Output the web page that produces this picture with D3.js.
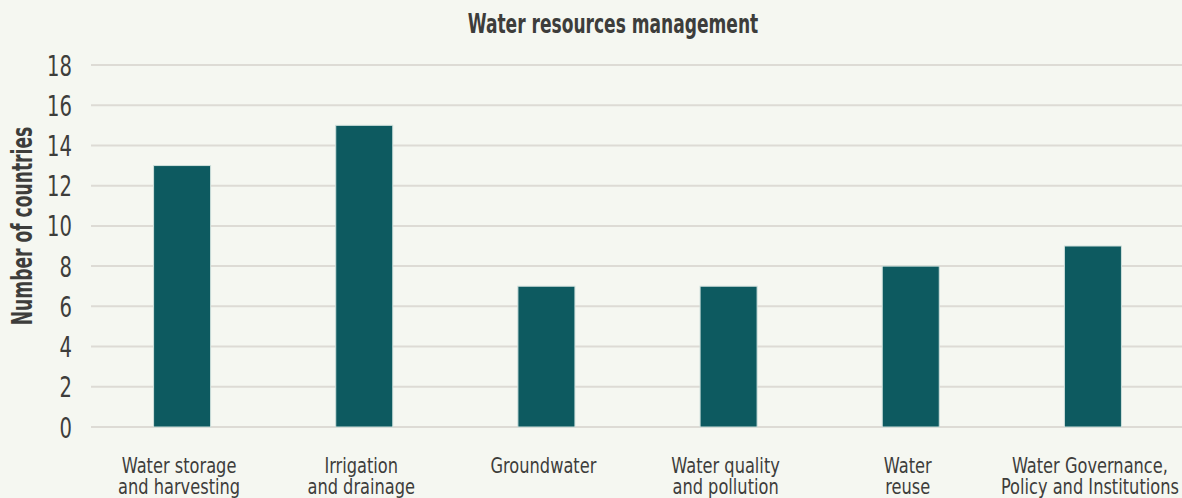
<!DOCTYPE html>
<html><head><meta charset="utf-8">
<script src="https://cdn.jsdelivr.net/npm/d3@7"></script>
<style>
body{margin:0;background:#f5f7f1;}
text{font-family:"DejaVu Sans Condensed","DejaVu Sans","Roboto",sans-serif;fill:#3d3d3b;}
</style></head><body>
<svg id="c" width="1182" height="498"></svg>
<script>
const categories = [["Water storage","and harvesting"],["Irrigation","and drainage"],["Groundwater"],["Water quality","and pollution"],["Water","reuse"],["Water Governance,","Policy and Institutions"]];
const values = [13,15,7,7,8,9];
const yTicks = [0,2,4,6,8,10,12,14,16,18];
const title = "Water resources management";
const yLabel = "Number of countries";

const svg = d3.select("#c");
svg.append("rect").attr("width",1182).attr("height",498).attr("fill","#f5f7f1");
const x = d3.scaleBand().domain(d3.range(categories.length)).range([91,1184]).paddingInner(0.687).paddingOuter(0.3435);
const y = d3.scaleLinear().domain([0,18]).range([427,65]);

svg.append("g").selectAll("line").data(yTicks).join("line")
  .attr("x1",91).attr("x2",1182).attr("y1",d=>y(d)).attr("y2",d=>y(d))
  .attr("stroke","#dddbd5").attr("stroke-width",2);

svg.append("g").selectAll("text").data(yTicks).join("text")
  .attr("transform",d=>`translate(72,${y(d)+10.5}) scale(0.75,1)`).attr("text-anchor","end")
  .attr("font-size",29).text(d=>d);

svg.append("g").selectAll("rect").data(values).join("rect")
  .attr("x",(d,i)=>x(i)).attr("width",x.bandwidth())
  .attr("y",d=>y(d)).attr("height",d=>y(0)-y(d))
  .attr("fill","#0d5a60").attr("stroke","#cfe0dc").attr("stroke-width",1);

const lab = svg.append("g").selectAll("text").data(categories).join("text")
  .attr("text-anchor","middle").attr("font-size",22)
  .attr("transform",(d,i)=>`translate(${x(i)+x.bandwidth()/2-3},473) scale(0.82,1)`);
lab.selectAll("tspan").data(d=>d).join("tspan").attr("x",0).attr("y",(d,j)=>j*21).text(d=>d);

svg.append("text").attr("transform","translate(613,33) scale(0.73,1)").attr("text-anchor","middle")
  .attr("font-size",26).attr("font-weight","bold").text(title);

svg.append("text").attr("transform","translate(32,226) rotate(-90) scale(0.68,1)").attr("text-anchor","middle")
  .attr("font-size",28).attr("font-weight","bold").text(yLabel);
</script></body></html>
